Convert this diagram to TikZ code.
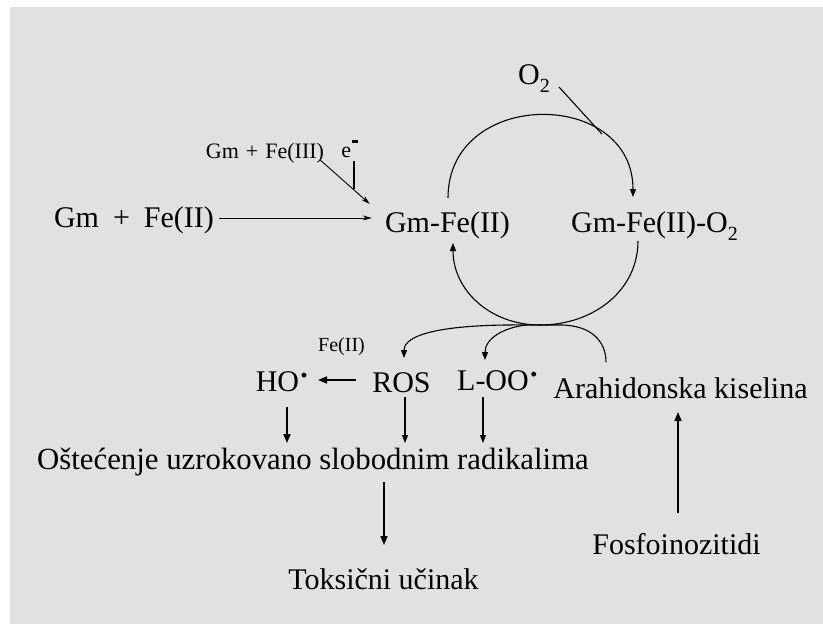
\documentclass[tikz,border=0pt]{standalone}
\usepackage{fontspec}
\setmainfont{Liberation Serif}
\usepackage{graphicx}
\usetikzlibrary{arrows.meta,calc}
\definecolor{bg}{RGB}{225,225,225}
\begin{document}
\begin{tikzpicture}[x=1pt,y=-1pt,
  lbl/.style={inner sep=0pt,anchor=base,font=\fontsize{30}{30}\selectfont},
  sml/.style={inner sep=0pt,anchor=base,font=\fontsize{22}{22}\selectfont},
  tinylbl/.style={inner sep=0pt,anchor=base,font=\fontsize{20}{20}\selectfont},
  conn/.style={line width=1.1pt},
  arr/.style={conn,-{Triangle[length=8pt,width=6pt]}},
  thinarr/.style={line width=0.9pt,-{Stealth[length=9pt,width=5pt]}},
  heavy/.style={line width=1.6pt,-{Triangle[length=9pt,width=7pt]}}]
\fill[white] (0,0) rectangle (823,624);
\fill[bg] (10,7) rectangle (823,624);

\node[lbl] (gmfe2) at (134,227) {Gm\hspace{14pt}+\hspace{14pt}Fe(II)};
\node[lbl] (gmfeII) at (447.5,232) {Gm-Fe(II)};
\node[lbl] (gmfeIIO2) at (654.5,232) {Gm-Fe(II)-O\raisebox{-8pt}{\fontsize{20}{20}\selectfont 2}};
\node[sml] (gmfe3) at (265,158) {Gm\hspace{7pt}+\hspace{7pt}Fe(III)};
\node[sml] (em) at (349.5,157) {e\hspace{0.5pt}\rule[14pt]{6pt}{2.8pt}};
\node[lbl] (otwo) at (534,84) {O\raisebox{-8pt}{\fontsize{20}{20}\selectfont 2}};
\node[tinylbl] (fe2s) at (341.5,351) {Fe(II)};
\node[lbl] (ho) at (282.5,391) {HO\raisebox{6pt}{\textbf{·}}};
\node[lbl] (ros) at (401.5,392) {ROS};
\node[lbl] (loo) at (498,390) {L-OO\raisebox{6pt}{\textbf{·}}};
\node[lbl] (arah) at (680.5,398) {Arahidonska kiselina};
\node[lbl,font=\fontsize{30.8}{30.8}\selectfont] (ost) at (313,469) {Oštećenje uzrokovano slobodnim radikalima};
\node[lbl] (tok) at (383.5,589) {Toksični učinak};
\node[lbl] (fos) at (676.5,554) {Fosfoinozitidi};

% into Gm-Fe(II)
\draw[thinarr] ($(gmfe2.base east)+(5,-9)$) -- ($(gmfeII.base west)+(-13,-14)$);
\draw[thinarr] ($(gmfe3.base east)+(-4,2)$) -- coordinate[pos=0.66] (meet) ($(gmfeII.base west)+(-15,-28)$);
\coordinate (etop) at ($(em.base)+(4.5,4)$);
\draw[conn] (etop) -- (etop |- meet);

% upper arc with O2
\draw[arr] ($(gmfeII.base)+(0.5,-34)$) .. controls (448,88) and (633,88) .. coordinate[pos=0.74] (o2meet) ($(gmfeIIO2.base)+(-21.5,-35)$);
\draw[conn] ($(otwo.base)+(25,3)$) -- (o2meet);

% lower arc
\draw[arr] ($(gmfeIIO2.base)+(-16.5,9)$) .. controls (638,290) and (594,325) .. (540,325) .. controls (490,325) and (453,290) .. ($(gmfeII.base)+(5.5,11)$);

% branches at the bottom of the cycle
\coordinate (botL) at (527,325);
\coordinate (botR) at (560,325);
\draw[arr] (botL) .. controls (440,324) and (404,335) .. ($(ros.base)+(2.5,-34)$);
\draw[arr] (botL) .. controls (505,327) and (485,338) .. ($(loo.base)+(-13,-30)$);
\draw[conn] ($(arah.base)+(-74.5,-36)$) .. controls (606,342) and (592,325) .. (botR) -- (botL);

% ROS -> HO
\draw[line width=1.5pt,-{Triangle[length=9pt,width=7pt]}] ($(ros.base)+(-45.5,-12)$) -- ($(ho.base)+(35.5,-11)$);

% down arrows
\draw[heavy] ($(ho.base)+(4.5,16)$) -- ($(ost.base)+(-26,-26)$);
\draw[arr] ($(ros.base)+(3.5,5)$) -- ($(ost.base)+(92,-26)$);
\draw[arr] ($(loo.base)+(-15,7)$) -- ($(ost.base)+(170,-26)$);
\draw[heavy] ($(ost.base)+(71,13)$) -- ($(tok.base)+(0.5,-44)$);
\draw[heavy] ($(fos.base)+(1.5,-41)$) -- ($(arah.base)+(-2.5,14)$);
\end{tikzpicture}
\end{document}
